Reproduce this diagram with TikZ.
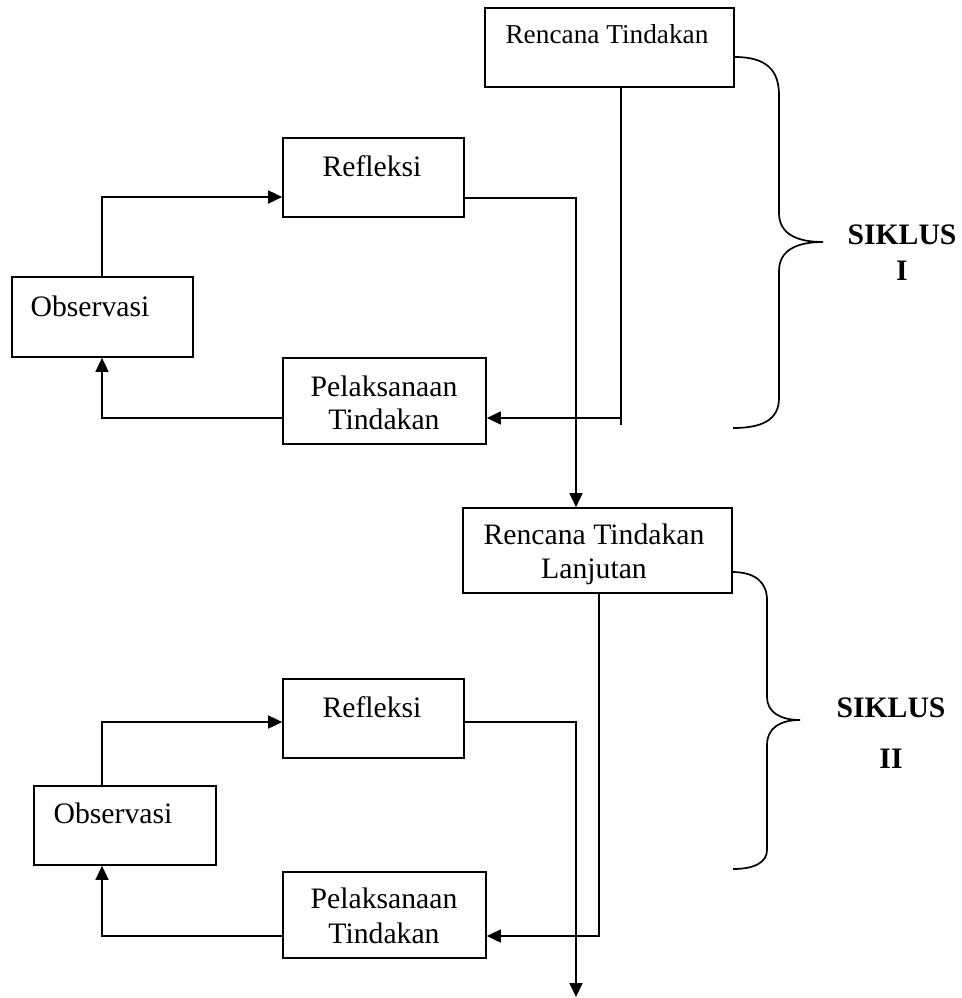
\documentclass[tikz,border=0pt]{standalone}
\usepackage{fontspec}
\setmainfont{Liberation Serif}
\usetikzlibrary{arrows.meta}
\begin{document}
\begin{tikzpicture}[x=1pt,y=-1pt,
  box/.style={draw, line width=1.7pt, inner sep=0pt},
  txt/.style={anchor=base, inner sep=0pt, font=\fontsize{29.7}{34}\selectfont},
  bigtxt/.style={anchor=base, inner sep=0pt, font=\fontsize{29.7}{34}\selectfont\bfseries},
  conn/.style={line width=1.7pt},
  arr/.style={conn, -{Triangle[length=14pt,width=13pt]}}]
\useasboundingbox (0,0) rectangle (961,998);

% boxes
\node[box, minimum width=249pt, minimum height=79pt] (RT)   at (609.5,47.5) {};
\node[box, minimum width=181pt, minimum height=79pt] (Ref1) at (373.5,177.5) {};
\node[box, minimum width=181pt, minimum height=80pt] (Obs1) at (102.5,317) {};
\node[box, minimum width=203pt, minimum height=86pt] (Pel1) at (384.5,401) {};
\node[box, minimum width=269pt, minimum height=85pt] (RTL)  at (597.5,550.5) {};
\node[box, minimum width=181pt, minimum height=79pt] (Ref2) at (373.5,718.5) {};
\node[box, minimum width=182pt, minimum height=79pt] (Obs2) at (125,825.5) {};
\node[box, minimum width=203pt, minimum height=86pt] (Pel2) at (384.5,915) {};

% texts
\node[txt, font=\fontsize{27.3}{32}\selectfont] (tRT) at (607,44) {Rencana Tindakan};
\node[txt] (tRef1) at (372,176) {Refleksi};
\node[txt] (tObs1) at (90,316) {Observasi};
\node[txt] (tPel1a) at (384,396) {Pelaksanaan};
\node[txt] (tPel1b) at (384,429) {Tindakan};
\node[txt] (tRTLa) at (594,544) {Rencana Tindakan};
\node[txt] (tRTLb) at (594,578) {Lanjutan};
\node[txt] (tRef2) at (372,717) {Refleksi};
\node[txt] (tObs2) at (113,823) {Observasi};
\node[txt] (tPel2a) at (384,908) {Pelaksanaan};
\node[txt] (tPel2b) at (384,943) {Tindakan};
\node[bigtxt] (s1a) at (902,244) {SIKLUS};
\node[bigtxt] (s1b) at (902,280) {I};
\node[bigtxt] (s2a) at (891,717) {SIKLUS};
\node[bigtxt] (s2b) at (891,768) {II};

% cycle I connectors
\coordinate (b1) at (102,197);
\draw[arr] (Obs1.north -| b1) -- (b1) -- (Ref1.west |- b1);
\coordinate (b2) at (102,418);
\draw[arr] (Pel1.west |- b2) -- (b2) -- (b2 |- Obs1.south);
\coordinate (b3) at (576,198);
\draw[arr] (Ref1.east |- b3) -- (b3) -- (b3 |- RTL.north);
\coordinate (b4) at (621,418);
\coordinate (b5) at (621,425);
\draw[conn] (RT.south -| b4) -- (b5);
\draw[arr] (b4) -- (Pel1.east |- b4);

% cycle II connectors
\coordinate (c1) at (102,722);
\draw[arr] (Obs2.north -| c1) -- (c1) -- (Ref2.west |- c1);
\coordinate (c2) at (102,936);
\draw[arr] (Pel2.west |- c2) -- (c2) -- (c2 |- Obs2.south);
\coordinate (c3) at (576,722);
\coordinate (cend) at (576,997);
\draw[arr] (Ref2.east |- c3) -- (c3) -- (cend);
\coordinate (c4) at (599,936);
\draw[arr] (RTL.south -| c4) -- (c4) -- (Pel2.east |- c4);

% braces
\draw[conn] (735,57) .. controls (766,57) and (779,70) .. (779,95)
  -- (779,213) .. controls (779,234) and (797,242) .. (823,242)
  .. controls (797,242) and (779,250) .. (779,271)
  -- (779,398) .. controls (779,420) and (762,428) .. (733,428);
\draw[conn] (732,572) .. controls (756,572) and (767,583) .. (767,600)
  -- (767,697) .. controls (767,712) and (780,720) .. (800,720)
  .. controls (780,720) and (767,728) .. (767,745)
  -- (767,850) .. controls (767,862) and (755,869) .. (733,869);
\end{tikzpicture}
\end{document}
